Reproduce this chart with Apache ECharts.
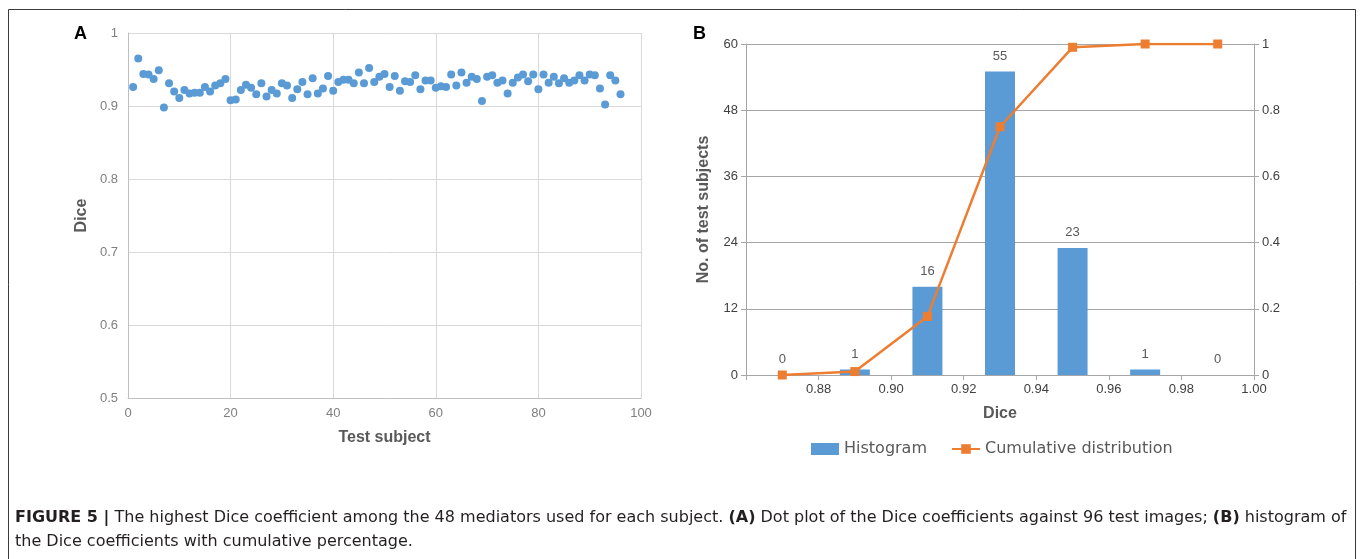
<!DOCTYPE html>
<html>
<head>
<meta charset="utf-8">
<script src="https://cdn.jsdelivr.net/npm/echarts@6/dist/echarts.min.js"></script>
<style>
html,body{margin:0;padding:0;background:#fff;}
#c{width:1362px;height:559px;}
</style>
</head>
<body>
<div id="c"></div>
<script>
// Panel A: Dice per test subject
const subjects = Array.from({length: 96}, (_, i) => i + 1);
const diceValues = [
 0.926,0.965,0.944,0.943,0.937,0.949,0.898,0.931,0.920,0.911,
 0.922,0.917,0.918,0.918,0.926,0.920,0.928,0.931,0.937,0.908,
 0.909,0.922,0.929,0.925,0.916,0.931,0.913,0.922,0.917,0.931,
 0.928,0.911,0.923,0.933,0.916,0.938,0.917,0.924,0.941,0.921,
 0.933,0.936,0.936,0.931,0.946,0.931,0.952,0.933,0.940,0.944,
 0.926,0.941,0.921,0.934,0.933,0.942,0.923,0.935,0.935,0.925,
 0.927,0.926,0.943,0.928,0.946,0.932,0.940,0.937,0.907,0.940,
 0.942,0.932,0.935,0.917,0.932,0.939,0.943,0.934,0.943,0.923,
 0.943,0.932,0.940,0.931,0.938,0.932,0.935,0.942,0.935,0.943,
 0.942,0.924,0.902,0.942,0.935,0.916
];
// Panel B: histogram
const binCenters = [0.87, 0.89, 0.91, 0.93, 0.95, 0.97, 0.99];
const binCounts = [0, 1, 16, 55, 23, 1, 0];
const cumulative = [0, 0.0104, 0.177, 0.75, 0.99, 1, 1];

const chart = echarts.init(document.getElementById('c'), null, {renderer: 'canvas'});
const tickColor = '#7f7f7f';
const titleColor = '#595959';
const gridColor = '#d9d9d9';
const FONT = 'Liberation Sans, Arial, sans-serif';
const WIDE = 'DejaVu Sans, sans-serif';

const option = {
  backgroundColor: '#fff',
  animation: false,
  textStyle: {fontFamily: FONT},
  grid: [
    {left: 128, top: 33, width: 513, height: 365},
    {left: 746, top: 44, width: 508, height: 331}
  ],
  xAxis: [
    {
      gridIndex: 0, type: 'value', min: 0, max: 100, interval: 20,
      name: 'Test subject', nameLocation: 'middle', nameGap: 32,
      nameTextStyle: {color: titleColor, fontSize: 16, fontWeight: 'bold', fontFamily: FONT},
      axisLine: {show: true, lineStyle: {color: '#bfbfbf'}},
      axisTick: {show: false},
      axisLabel: {color: tickColor, fontSize: 13, margin: 9},
      splitLine: {show: true, lineStyle: {color: gridColor}}
    },
    {
      gridIndex: 1, type: 'value', min: 0.86, max: 1.0, interval: 0.02,
      name: 'Dice', nameLocation: 'middle', nameGap: 31,
      nameTextStyle: {color: titleColor, fontSize: 16, fontWeight: 'bold', fontFamily: FONT},
      axisLine: {show: true, onZero: false, lineStyle: {color: '#a6a6a6'}},
      axisTick: {show: true, inside: false, length: 5, lineStyle: {color: '#a6a6a6'}},
      axisLabel: {
        color: '#404040', fontSize: 13, margin: 8,
        formatter: v => (Math.abs(v - 0.86) < 1e-6 ? '' : v.toFixed(2))
      },
      splitLine: {show: false}
    }
  ],
  yAxis: [
    {
      gridIndex: 0, type: 'value', min: 0.5, max: 1, interval: 0.1,
      name: 'Dice', nameLocation: 'middle', nameGap: 38,
      nameTextStyle: {color: titleColor, fontSize: 16, fontWeight: 'bold', fontFamily: FONT},
      axisLine: {show: true, lineStyle: {color: '#bfbfbf'}},
      axisTick: {show: false},
      axisLabel: {color: tickColor, fontSize: 13, margin: 10,
        formatter: v => (Math.abs(v - 1) < 1e-6 ? '1' : v.toFixed(1))},
      splitLine: {show: true, lineStyle: {color: gridColor}}
    },
    {
      gridIndex: 1, type: 'value', min: 0, max: 60, interval: 12,
      name: 'No. of test subjects', nameLocation: 'middle', nameGap: 34,
      nameTextStyle: {color: titleColor, fontSize: 16, fontWeight: 'bold', fontFamily: FONT},
      axisLine: {show: true, lineStyle: {color: '#a6a6a6'}},
      axisTick: {show: true, inside: false, length: 5, lineStyle: {color: '#a6a6a6'}},
      axisLabel: {color: '#404040', fontSize: 13, margin: 8},
      splitLine: {show: true, lineStyle: {color: '#a6a6a6'}}
    },
    {
      gridIndex: 1, type: 'value', min: 0, max: 1, interval: 0.2, position: 'right',
      axisLine: {show: true, lineStyle: {color: '#a6a6a6'}},
      axisTick: {show: true, inside: false, length: 5, lineStyle: {color: '#a6a6a6'}},
      axisLabel: {color: '#404040', fontSize: 13, margin: 8,
        formatter: v => (v === 0 || Math.abs(v - 1) < 1e-6 ? String(Math.round(v)) : String(+v.toFixed(1)))},
      splitLine: {show: false}
    }
  ],
  legend: {
    left: 806, top: 436,
    itemWidth: 28, itemHeight: 12, itemGap: 24,
    textStyle: {color: titleColor, fontSize: 16, fontFamily: WIDE},
    data: [
      {name: 'Histogram', icon: 'rect'},
      {name: 'Cumulative distribution'}
    ]
  },
  series: [
    {
      type: 'scatter', xAxisIndex: 0, yAxisIndex: 0,
      symbolSize: 8,
      itemStyle: {color: '#5b9bd5', opacity: 1},
      data: subjects.map((s, i) => [s, diceValues[i]])
    },
    {
      name: 'Histogram', type: 'bar', xAxisIndex: 1, yAxisIndex: 1,
      barWidth: 30,
      itemStyle: {color: '#5b9bd5'},
      label: {show: true, position: 'top', distance: 9, color: '#595959', fontSize: 13},
      data: binCenters.map((c, i) => [c, binCounts[i]])
    },
    {
      name: 'Cumulative distribution', type: 'line', xAxisIndex: 1, yAxisIndex: 2,
      symbol: 'rect', symbolSize: 9,
      lineStyle: {color: '#ed7d31', width: 2.5},
      itemStyle: {color: '#ed7d31'},
      z: 5,
      data: binCenters.map((c, i) => [c, cumulative[i]])
    }
  ],
  graphic: [
    {type: 'rect', silent: true, shape: {x: 8.5, y: 9.5, width: 1347, height: 580},
     style: {fill: 'none', stroke: '#3a3a3a', lineWidth: 1}},
    {type: 'text', left: 74, top: 25,
     style: {text: 'A', fill: '#000', font: 'bold 18px ' + FONT}},
    {type: 'text', left: 693, top: 25,
     style: {text: 'B', fill: '#000', font: 'bold 18px ' + FONT}},
    {type: 'text', left: 15, top: 506,
     style: {
       text: '{b|FIGURE 5 |} The highest Dice coefficient among the 48 mediators used for each subject. {b|(A)} Dot plot of the Dice coefficients against 96 test images; {b|(B)} histogram of\nthe Dice coefficients with cumulative percentage.',
       fill: '#231f20', fontSize: 16, fontFamily: WIDE, lineHeight: 24,
       rich: {b: {fontWeight: 'bold', fontSize: 16, fontFamily: WIDE, fill: '#231f20'}}
     }}
  ]
};
chart.setOption(option);
</script>
</body>
</html>
